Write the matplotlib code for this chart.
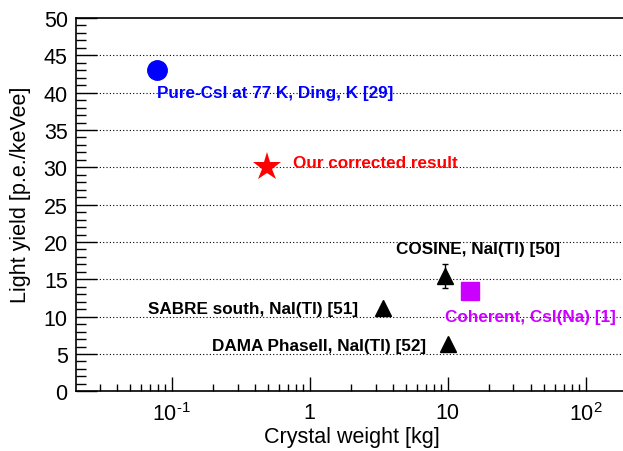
import matplotlib
matplotlib.use("Agg")
import matplotlib.pyplot as plt
from matplotlib.ticker import FixedLocator, FuncFormatter, LogLocator, MultipleLocator, NullFormatter

plt.rcParams["font.family"] = ["Liberation Sans", "DejaVu Sans"]
plt.rcParams["mathtext.fontset"] = "custom"
plt.rcParams["mathtext.rm"] = "Liberation Sans"
plt.rcParams["mathtext.it"] = "Liberation Sans"
plt.rcParams["mathtext.default"] = "regular"

# Measurements: crystal weight [kg] and light yield [p.e./keVee]
ding_w, ding_ly = [0.078], [43.0]
ours_w, ours_ly = [0.49], [30.0]
nai_names = ["COSINE, NaI(Tl) [50]", "SABRE south, NaI(Tl) [51]", "DAMA PhaseII, NaI(Tl) [52]"]
nai_w = [9.6, 3.4, 10.0]
nai_ly = [15.5, 11.2, 6.4]
nai_err = [1.6, 0.0, 0.0]
coh_w, coh_ly = [14.6], [13.4]

x_ticks = [0.1, 1, 10, 100]
x_ticklabels = ["$10^{\u20101}$", "1", "10", "$10^{2}$"]
y_ticks = [0, 5, 10, 15, 20, 25, 30, 35, 40, 45, 50]

fig = plt.figure(figsize=(6.23, 4.52), dpi=100)
ax = fig.add_axes([0.122, 0.132, 0.878, 0.826])

ax.set_xscale("log")
ax.set_xlim(0.0202, 187)
ax.set_ylim(0, 50)

# dotted horizontal grid
for y in y_ticks[1:-1]:
    ax.axhline(y, color="black", linestyle=(0, (1, 2)), linewidth=0.8, zorder=1)

ax.plot(ding_w, ding_ly, "o", color="#0000ff", markersize=14, zorder=3)
ax.plot(ours_w, ours_ly, "*", color="#ff0000", markersize=21, markeredgewidth=0, zorder=3)
ax.errorbar(nai_w, nai_ly, yerr=nai_err, fmt="^", color="black", markersize=12,
            elinewidth=1, capsize=2, capthick=1, zorder=3)
ax.plot(coh_w, coh_ly, "s", color="#cc00ff", markersize=13.5, zorder=3)

lab_kw = dict(fontsize=12.3, fontweight="bold", va="center")
ax.text(0.078, 40.0, "Pure-CsI at 77 K, Ding, K [29]", color="#0000ff", ha="left", **lab_kw)
ax.text(0.757, 30.6, "Our corrected result", color="#ff0000", ha="left", **lab_kw)
ax.text(4.2, 19.1, nai_names[0], color="black", ha="left", **lab_kw)
ax.text(2.23, 11.1, nai_names[1], color="black", ha="right", **lab_kw)
ax.text(6.96, 6.2, nai_names[2], color="black", ha="right", **lab_kw)
ax.text(9.55, 10.0, "Coherent, CsI(Na) [1]", color="#cc00ff", ha="left", **lab_kw)

ax.xaxis.set_major_locator(FixedLocator(x_ticks))
ax.xaxis.set_major_formatter(FuncFormatter(lambda v, p: x_ticklabels[x_ticks.index(v)] if v in x_ticks else ""))
ax.xaxis.set_minor_locator(LogLocator(base=10, subs=range(2, 10), numticks=20))
ax.xaxis.set_minor_formatter(NullFormatter())
ax.yaxis.set_major_locator(FixedLocator(y_ticks))
ax.yaxis.set_minor_locator(MultipleLocator(1))

ax.tick_params(axis="both", which="both", direction="in", top=False, right=False,
               width=1, labelsize=15.5)
ax.tick_params(axis="x", which="major", length=10, pad=8)
ax.tick_params(axis="x", which="minor", length=5)
ax.tick_params(axis="y", which="major", length=15, pad=6)
ax.tick_params(axis="y", which="minor", length=7)

ax.spines["right"].set_visible(False)
for s in ["left", "bottom", "top"]:
    ax.spines[s].set_linewidth(1.2)

ax.set_xlabel("Crystal weight [kg]", fontsize=15.5)
ax.set_ylabel("Light yield [p.e./keVee]", fontsize=15.5)
ax.xaxis.set_label_coords(0.504, -0.092)
ax.yaxis.set_label_coords(-0.082, 0.528)

fig.savefig("out.png", dpi=100)
